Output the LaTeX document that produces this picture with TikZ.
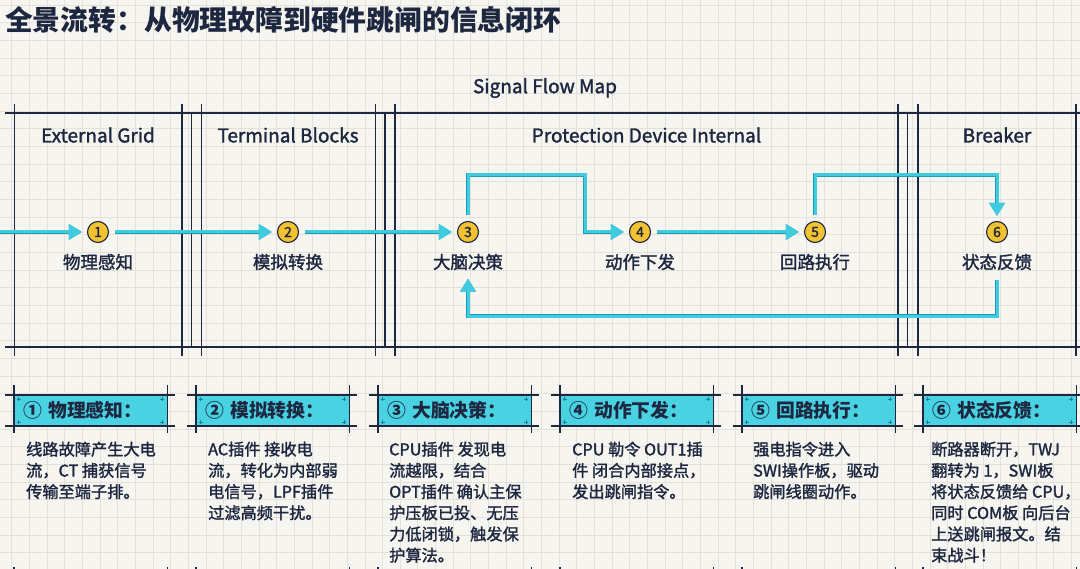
\documentclass[tikz,border=0pt]{standalone}
\usepackage{fontspec}
\setmainfont{Noto Sans CJK SC}
\newfontfamily\medfont{Noto Sans CJK SC}[FakeBold=1.6]
\usetikzlibrary{arrows.meta}
\definecolor{paper}{HTML}{F6F5F0}
\definecolor{gridc}{HTML}{E2E1DC}
\definecolor{ink}{HTML}{1E2740}
\definecolor{flow}{HTML}{3FCCE0}
\definecolor{flowedge}{HTML}{1D9DB2}
\definecolor{headfill}{HTML}{48D2E2}
\definecolor{gold}{HTML}{F2C230}
\begin{document}
\begin{tikzpicture}[x=1bp,y=-1bp,
  gridln/.style={gridc,line width=0.8bp},
  lane/.style={ink,line width=1.4bp},
  lanetitle/.style={font=\medfont\fontsize{19bp}{22bp}\selectfont,text=ink},
  stepnum/.style={circle,draw=ink,line width=1.1bp,fill=gold,minimum size=21bp,inner sep=0pt,font=\medfont\fontsize{14bp}{16bp}\selectfont,text=ink},
  steplabel/.style={font=\medfont\fontsize{17.5bp}{20bp}\selectfont,text=ink},
  flowline/.style={flow,line width=3bp,-{Triangle[length=13bp,width=15bp]},shorten <=6bp,shorten >=5bp,preaction={draw=flowedge,line width=4.4bp}},
  headbox/.style={fill=headfill,minimum width=153bp,minimum height=31bp,inner xsep=9bp,inner ysep=0pt,text width=135bp,align=left,font=\bfseries\fontsize{18.8bp}{21bp}\selectfont,text=ink,anchor=west},
  frame/.style={ink,line width=1.8bp},
  plusmk/.style={flowedge!70!ink,line width=0.6bp},
  bodytext/.style={anchor=north west,inner sep=0pt,align=left,font=\medfont\fontsize{16.2bp}{21.2bp}\selectfont,text=ink}]
\useasboundingbox (0,0) rectangle (1080,569);
\fill[paper] (0,0) rectangle (1080,569);
\foreach \i in {0,...,60} \draw[gridln] ({11.7+17.66*\i},0) -- ++(0,569);
\foreach \i in {0,...,31} \draw[gridln] (0,{5.2+17.66*\i}) -- ++(1080,0);

\node[anchor=west,font=\bfseries\fontsize{27.8bp}{30bp}\selectfont,text=ink,inner sep=0pt] (title) at (5,20) {全景流转：从物理故障到硬件跳闸的信息闭环};
\node[lanetitle] (sfm) at (545,88) {Signal Flow Map};

\draw[lane] (5,113) -- (1080,113);
\draw[lane] (5,347) -- (1080,347);
\foreach \x in {14.5,181.8,201.4,375.3,395,898,917.8,1076} \draw[lane] (\x,104) -- (\x,356);
\foreach \x in {191.5,385,907.4} \draw[lane] (\x,113) -- (\x,347);
\node[lanetitle] (extg) at (98,135) {External Grid};
\node[lanetitle] (term) at (288,135) {Terminal Blocks};
\node[lanetitle] (prot) at (646.5,135) {Protection Device Internal};
\node[lanetitle] (brk) at (997,135) {Breaker};

\node[stepnum] (c1) at (98,232) {1};
\node[stepnum] (c2) at (288,232) {2};
\node[stepnum] (c3) at (468,232) {3};
\node[stepnum] (c4) at (640,232) {4};
\node[stepnum] (c5) at (815,232) {5};
\node[stepnum] (c6) at (997,232) {6};
\node[steplabel] (l1) at (98,262) {物理感知};
\node[steplabel] (l2) at (288,262) {模拟转换};
\node[steplabel] (l3) at (468,262) {大脑决策};
\node[steplabel] (l4) at (640,262) {动作下发};
\node[steplabel] (l5) at (815,262) {回路执行};
\node[steplabel] (l6) at (997,262) {状态反馈};

\coordinate (src) at (0,232);
\coordinate (k34) at (585,175);
\coordinate (k56) at (997,175);
\coordinate (k63) at (468,316);
\draw[flowline,shorten <=0pt] (src) -- (c1);
\draw[flowline] (c1) -- (c2);
\draw[flowline] (c2) -- (c3);
\draw[flowline] (c3) |- (k34) |- (c4);
\draw[flowline] (c4) -- (c5);
\draw[flowline] (c5) |- (k56) -- (c6);
\draw[flowline] (l6) |- (k63) -- (l3);

\node[headbox] (h1) at (14,410.5) {① 物理感知：};
\node[headbox] (h2) at (196,410.5) {② 模拟转换：};
\node[headbox] (h3) at (378,410.5) {③ 大脑决策：};
\node[headbox] (h4) at (560,410.5) {④ 动作下发：};
\node[headbox] (h5) at (742,410.5) {⑤ 回路执行：};
\node[headbox] (h6) at (923,410.5) {⑥ 状态反馈：};
\foreach \n in {1,...,6} {
  \draw[frame] ([xshift=-9bp]h\n.north west) -- ([xshift=8bp]h\n.north east);
  \draw[frame] ([xshift=-9bp]h\n.south west) -- ([xshift=8bp]h\n.south east);
  \draw[frame] ([yshift=10bp]h\n.north west) -- ([yshift=-7bp]h\n.south west);
  \draw[frame] ([yshift=10bp]h\n.north east) -- ([yshift=-7bp]h\n.south east);
  \draw[plusmk] ([shift={(4.5,4)}]h\n.north west) +(-2,0) -- +(2,0) +(0,-2) -- +(0,2);
  \draw[plusmk] ([shift={(4.5,-4)}]h\n.south west) +(-2,0) -- +(2,0) +(0,-2) -- +(0,2);
  \draw[plusmk] ([shift={(-5,4)}]h\n.north east) +(-2,0) -- +(2,0) +(0,-2) -- +(0,2);
  \draw[plusmk] ([shift={(-5,-4)}]h\n.south east) +(-2,0) -- +(2,0) +(0,-2) -- +(0,2);
  \draw[frame] ([yshift=-151bp]h\n.south west) -- +(0,-10);
  \draw[frame] ([yshift=-151bp]h\n.south east) -- +(0,-10);
}

\node[bodytext] (b1) at (26,441.5) {线路故障产生大电\\流，CT 捕获信号\\传输至端子排。};
\node[bodytext] (b2) at (208,441.5) {AC插件 接收电\\流，转化为内部弱\\电信号，LPF插件\\过滤高频干扰。};
\node[bodytext] (b3) at (389,441.5) {CPU插件 发现电\\流越限，结合\\OPT插件 确认主保\\护压板已投、无压\\力低闭锁，触发保\\护算法。};
\node[bodytext] (b4) at (572,441.5) {CPU 勒令 OUT1插\\件 闭合内部接点，\\发出跳闸指令。};
\node[bodytext] (b5) at (753,441.5) {强电指令进入\\SWI操作板，驱动\\跳闸线圈动作。};
\node[bodytext] (b6) at (931,441.5) {断路器断开，TWJ\\翻转为 1，SWI板\\将状态反馈给 CPU\makebox[0.4em][l]{，}\\同时 COM板 向后台\\上送跳闸报文。结\\束战斗！};
\end{tikzpicture}
\end{document}
